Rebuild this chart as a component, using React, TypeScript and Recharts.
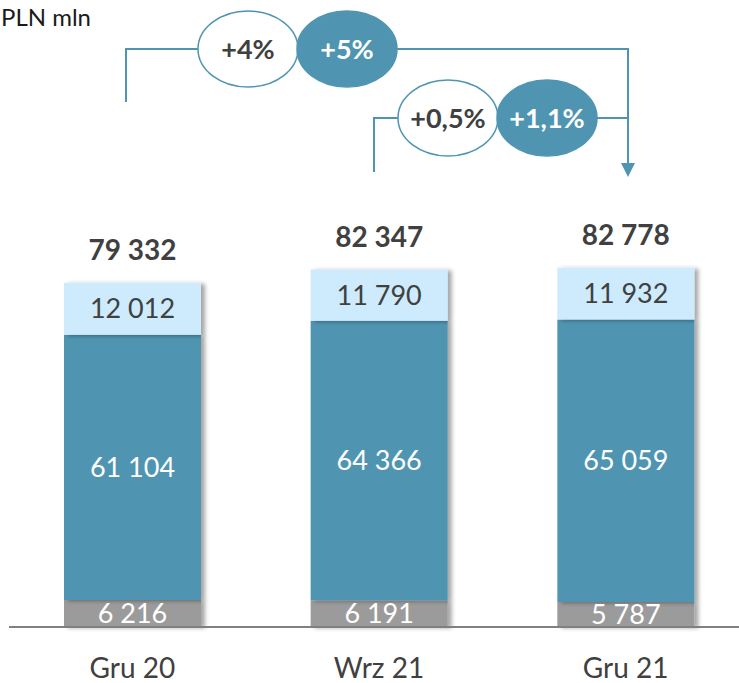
import React from 'react';
import { BarChart, Bar, XAxis, YAxis, LabelList, Rectangle } from 'recharts';

const categories = ['Gru 20', 'Wrz 21', 'Gru 21'];
const otherValues = [6216, 6191, 5787];
const mainValues = [61104, 64366, 65059];
const topValues = [12012, 11790, 11932];

const data = categories.map((name, i) => ({
  name,
  other: otherValues[i],
  main: mainValues[i],
  top: topValues[i],
  total: otherValues[i] + mainValues[i] + topValues[i],
}));

const FONT = 'Lato, "Open Sans", sans-serif';
const LINE = '#4F95B2';

// thousands with a space, like the source deck
const fmt = (v: any) => String(v).replace(/\B(?=(\d{3})+(?!\d))/g, ' ');

const ShadowBar = (props: any) => <Rectangle {...props} filter="url(#barShadow)" />;

// the two growth brackets above the bars
function Annotations() {
  const bubble = (cx: number, cy: number, label: string, filled: boolean) => (
    <g>
      <ellipse cx={cx} cy={cy} rx={50} ry={38} fill={filled ? LINE : '#fff'} stroke={LINE} strokeWidth={1.5} />
      <text x={cx} y={cy + 10} textAnchor="middle" fontFamily={FONT} fontWeight={700} fontSize={27} fill={filled ? '#fff' : '#404040'}>
        {label}
      </text>
    </g>
  );
  return (
    <svg width={739} height={683} style={{ position: 'absolute', left: 0, top: 0, pointerEvents: 'none' }}>
      <text x={1} y={26} fontFamily={FONT} fontSize={24} fill="#1a1a1a">PLN mln</text>
      <polyline points="126,102 126,49 200,49" fill="none" stroke={LINE} strokeWidth={2} />
      <polyline points="396,49 628,49 628,165" fill="none" stroke={LINE} strokeWidth={2} />
      <polygon points="621,163 635,163 628,177" fill={LINE} />
      {bubble(248, 49, '+4%', false)}
      {bubble(347, 49, '+5%', true)}
      <polyline points="374,172 374,118 400,118" fill="none" stroke={LINE} strokeWidth={2} />
      <polyline points="596,118 628,118" fill="none" stroke={LINE} strokeWidth={2} />
      {bubble(448, 118, '+0,5%', false)}
      {bubble(547, 118, '+1,1%', true)}
    </svg>
  );
}

export default function App() {
  return (
    <div style={{ position: 'absolute', left: 0, top: 0, width: 739, height: 683, background: '#fff' }}>
      <svg width={0} height={0} style={{ position: 'absolute' }}>
        <defs>
          <filter id="barShadow" x="-10%" y="-10%" width="130%" height="130%">
            <feDropShadow dx={4} dy={1} stdDeviation={2} floodColor="#000" floodOpacity={0.35} />
          </filter>
        </defs>
      </svg>
      <BarChart
        width={739}
        height={683}
        data={data}
        margin={{ top: 193, right: -10, left: 9, bottom: 0 }}
        barSize={137}
      >
        <XAxis
          dataKey="name"
          height={56}
          tickLine={false}
          axisLine={{ stroke: '#808080', strokeWidth: 2 }}
          tickMargin={25}
          tick={{ fontFamily: FONT, fontSize: 28, fill: '#404040' }}
        />
        <YAxis hide domain={[0, 100000]} />
        <Bar dataKey="other" stackId="a" fill="#9B9B9B" shape={ShadowBar} isAnimationActive={false}>
          <LabelList dataKey="other" position="center" formatter={fmt} fill="#fff" fontFamily={FONT} fontSize={27} />
        </Bar>
        <Bar dataKey="main" stackId="a" fill="#4F95B2" shape={ShadowBar} isAnimationActive={false}>
          <LabelList dataKey="main" position="center" formatter={fmt} fill="#fff" fontFamily={FONT} fontSize={27} />
        </Bar>
        <Bar dataKey="top" stackId="a" fill="#CDEBFD" shape={ShadowBar} isAnimationActive={false}>
          <LabelList dataKey="top" position="center" formatter={fmt} fill="#404040" fontFamily={FONT} fontSize={27} />
          <LabelList dataKey="total" position="top" offset={23} formatter={fmt} fill="#404040" fontFamily={FONT} fontWeight={700} fontSize={28} />
        </Bar>
      </BarChart>
      <Annotations />
    </div>
  );
}
